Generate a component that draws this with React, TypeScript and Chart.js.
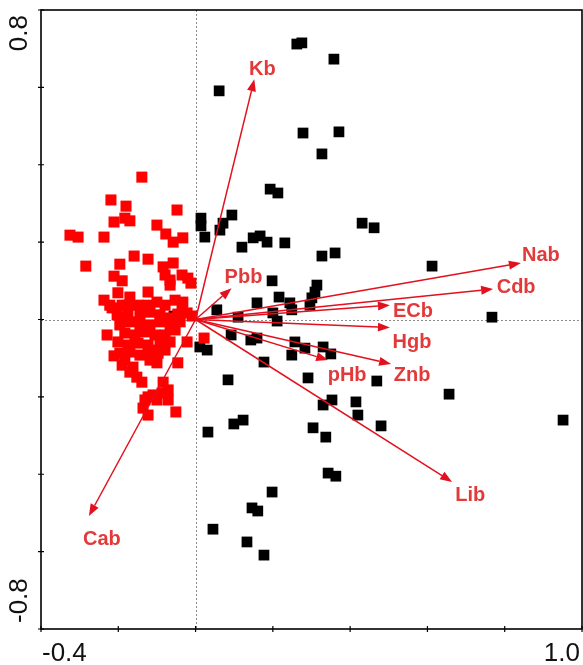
import React, { useEffect, useRef } from "react";
import { Chart, registerables } from "chart.js";

Chart.register(...registerables);

// Sample scores, group 1 (red)
const redPoints: [number, number][] = [
  [-0.139, 0.368], [-0.219, 0.309], [-0.18, 0.293], [-0.048, 0.283], [-0.211, 0.252],
  [-0.183, 0.262], [-0.17, 0.255], [-0.1, 0.244], [-0.325, 0.218], [-0.304, 0.213],
  [-0.237, 0.213], [-0.077, 0.221], [-0.058, 0.2], [-0.033, 0.211], [-0.159, 0.164],
  [-0.123, 0.156], [-0.284, 0.138], [-0.196, 0.143], [-0.084, 0.136], [-0.058, 0.146],
  [-0.211, 0.112], [-0.19, 0.1], [-0.079, 0.115], [-0.066, 0.102], [-0.035, 0.115],
  [-0.02, 0.107], [-0.012, 0.094], [-0.066, 0.089], [-0.201, 0.069], [-0.17, 0.058],
  [-0.123, 0.071], [-0.237, 0.05], [-0.1, 0.045], [-0.053, 0.05], [-0.033, 0.045],
  [-0.222, 0.037], [-0.216, 0.03], [-0.046, 0.014], [-0.022, 0.017], [-0.009, 0.009],
  [-0.035, 0.035], [-0.229, -0.04], [-0.022, -0.058], [-0.046, -0.112], [0.022, -0.048],
  [-0.19, 0.006], [-0.196, -0.087], [-0.183, -0.105], [-0.19, -0.118], [-0.162, -0.123],
  [-0.152, -0.149], [-0.139, -0.162], [-0.097, -0.087], [-0.1, -0.112], [-0.118, -0.105],
  [-0.084, -0.162], [-0.071, -0.182], [-0.087, -0.19], [-0.11, -0.195], [-0.131, -0.208],
  [-0.136, -0.229], [-0.123, -0.247], [-0.1, -0.208], [-0.071, -0.208], [-0.051, -0.239],
  [-0.123, -0.2], [-0.17, -0.136], [-0.175, 0.037], [-0.149, 0.037], [-0.123, 0.037],
  [-0.079, 0.037], [-0.175, 0.019], [-0.144, 0.012], [-0.118, 0.019], [-0.092, 0.012],
  [-0.066, 0.004], [-0.196, -0.014], [-0.17, -0.006], [-0.144, -0.014], [-0.118, -0.014],
  [-0.092, -0.006], [-0.066, -0.014], [-0.04, -0.006], [-0.183, -0.035], [-0.157, -0.04],
  [-0.131, -0.032], [-0.105, -0.04], [-0.079, -0.04], [-0.053, -0.027], [-0.201, -0.058],
  [-0.175, -0.066], [-0.149, -0.061], [-0.123, -0.066], [-0.092, -0.066], [-0.066, -0.058],
  [-0.17, -0.084], [-0.144, -0.092], [-0.118, -0.079], [-0.079, -0.079], [-0.203, 0.012],
  [-0.19, 0.037], [-0.211, -0.094],
];

// Sample scores, group 2 (black)
const blackPoints: [number, number][] = [
  [0.262, 0.712], [0.275, 0.715], [0.358, 0.673], [0.061, 0.591], [0.278, 0.482],
  [0.371, 0.485], [0.327, 0.428], [0.193, 0.337], [0.213, 0.327], [0.014, 0.262],
  [0.014, 0.242], [0.094, 0.27], [0.071, 0.249], [0.063, 0.231], [0.431, 0.249],
  [0.462, 0.237], [0.024, 0.213], [0.12, 0.187], [0.149, 0.211], [0.167, 0.216],
  [0.185, 0.2], [0.231, 0.198], [0.327, 0.164], [0.361, 0.172], [0.198, 0.1],
  [0.314, 0.089], [0.309, 0.071], [0.301, 0.056], [0.296, 0.037], [0.216, 0.058],
  [0.244, 0.043], [0.249, 0.025], [0.159, 0.043], [0.055, 0.025], [0.11, 0.006],
  [0.2, 0.017], [0.211, -0.004], [0.092, -0.04], [0.143, -0.053], [0.159, -0.048],
  [0.011, -0.071], [0.03, -0.079], [0.257, -0.058], [0.283, -0.074], [0.249, -0.092],
  [0.33, -0.071], [0.35, -0.089], [0.177, -0.11], [0.084, -0.156], [0.291, -0.151],
  [0.469, -0.159], [0.353, -0.208], [0.33, -0.221], [0.415, -0.213], [0.42, -0.247],
  [0.48, -0.275], [0.612, 0.138], [0.767, 0.006], [0.656, -0.193], [0.951, -0.26],
  [0.032, -0.291], [0.099, -0.27], [0.123, -0.26], [0.304, -0.28], [0.337, -0.304],
  [0.343, -0.397], [0.363, -0.405], [0.198, -0.446], [0.146, -0.487], [0.161, -0.495],
  [0.045, -0.542], [0.133, -0.575], [0.177, -0.609], [-0.056, 0.009],
];

// Environmental vectors
const vectorNames = ["Kb", "Pbb", "Nab", "Cdb", "ECb", "Hgb", "Znb", "pHb", "Lib", "Cab"];
const vectorX = [0.152, 0.093, 0.842, 0.77, 0.503, 0.503, 0.506, 0.343, 0.664, -0.276];
const vectorY = [0.621, 0.081, 0.146, 0.079, 0.037, -0.021, -0.115, -0.105, -0.42, -0.508];

// Axis ticks and labels
const xTicks = [-0.4, -0.2, 0, 0.2, 0.4, 0.6, 0.8, 1.0];
const yTicks = [-0.8, -0.6, -0.4, -0.2, 0, 0.2, 0.4, 0.6, 0.8];
const xTickLabels = ["-0.4", "1.0"];
const yTickLabels = ["-0.8", "0.8"];

// label placement (pixel offsets of label centre from arrow tip)
const labelOffsets: Record<string, [number, number]> = {
  Kb: [8, -11], Pbb: [12, -12], Nab: [20, -9], Cdb: [23, -3], ECb: [23, 5],
  Hgb: [22, 13], Znb: [21, 10], pHb: [19, 14], Lib: [18, 12], Cab: [13, 22],
};

const ARROW = "#e3101e";
const LABEL = "#e23a3a";
const FONT = '"Liberation Sans", Arial, sans-serif';

const overlay = {
  id: "overlay",
  beforeDatasetsDraw(chart: any) {
    const { ctx, chartArea: a, scales } = chart;
    const x0 = Math.round(scales.x.getPixelForValue(0)) + 0.5;
    const y0 = Math.round(scales.y.getPixelForValue(0)) + 0.5;
    ctx.save();
    ctx.strokeStyle = "#8c8c8c";
    ctx.lineWidth = 1;
    ctx.setLineDash([2, 2]);
    ctx.beginPath();
    ctx.moveTo(x0, a.top);
    ctx.lineTo(x0, a.bottom);
    ctx.moveTo(a.left, y0);
    ctx.lineTo(a.right, y0);
    ctx.stroke();
    ctx.restore();
  },
  afterDatasetsDraw(chart: any) {
    const { ctx, chartArea: a, scales } = chart;
    const sx = scales.x, sy = scales.y;
    const ox = sx.getPixelForValue(0), oy = sy.getPixelForValue(0);
    ctx.save();
    // arrows
    vectorNames.forEach((name, i) => {
      const tx = sx.getPixelForValue(vectorX[i]);
      const ty = sy.getPixelForValue(vectorY[i]);
      const ang = Math.atan2(ty - oy, tx - ox);
      const hl = 12, hw = 4.5;
      const bx = tx - hl * Math.cos(ang), by = ty - hl * Math.sin(ang);
      ctx.strokeStyle = ARROW;
      ctx.fillStyle = ARROW;
      ctx.lineWidth = 1.5;
      ctx.beginPath();
      ctx.moveTo(ox, oy);
      ctx.lineTo(bx, by);
      ctx.stroke();
      ctx.beginPath();
      ctx.moveTo(tx, ty);
      ctx.lineTo(bx + hw * Math.sin(ang), by - hw * Math.cos(ang));
      ctx.lineTo(bx - hw * Math.sin(ang), by + hw * Math.cos(ang));
      ctx.closePath();
      ctx.fill();
      const off = labelOffsets[name] || [0, 0];
      ctx.fillStyle = LABEL;
      ctx.font = `bold 20px ${FONT}`;
      ctx.textAlign = "center";
      ctx.textBaseline = "alphabetic";
      ctx.fillText(name, tx + off[0], ty + off[1] + 7);
    });
    // frame
    ctx.strokeStyle = "#000";
    ctx.lineWidth = 1.6;
    ctx.strokeRect(a.left, a.top, a.right - a.left, a.bottom - a.top);
    // ticks
    ctx.lineWidth = 1.2;
    ctx.beginPath();
    xTicks.forEach((v) => {
      const px = sx.getPixelForValue(v);
      ctx.moveTo(px, a.bottom - 3);
      ctx.lineTo(px, a.bottom + 3);
    });
    yTicks.forEach((v) => {
      const py = sy.getPixelForValue(v);
      ctx.moveTo(a.left - 3, py);
      ctx.lineTo(a.left + 3, py);
    });
    ctx.stroke();
    // tick labels
    ctx.fillStyle = "#111";
    ctx.font = `26px ${FONT}`;
    ctx.textBaseline = "alphabetic";
    ctx.textAlign = "left";
    ctx.fillText(xTickLabels[0], sx.getPixelForValue(-0.4) + 1, a.bottom + 32);
    ctx.textAlign = "right";
    ctx.fillText(xTickLabels[1], sx.getPixelForValue(1.0) - 2, a.bottom + 32);
    // y labels rotated
    ctx.save();
    ctx.translate(a.left - 14, sy.getPixelForValue(-0.8) - 6);
    ctx.rotate(-Math.PI / 2);
    ctx.textAlign = "left";
    ctx.fillText(yTickLabels[0], 0, 0);
    ctx.restore();
    ctx.save();
    ctx.translate(a.left - 14, sy.getPixelForValue(0.8) + 5);
    ctx.rotate(-Math.PI / 2);
    ctx.textAlign = "right";
    ctx.fillText(yTickLabels[1], 0, 0);
    ctx.restore();
    ctx.restore();
  },
};

export default function App() {
  const ref = useRef<HTMLCanvasElement | null>(null);
  useEffect(() => {
    if (!ref.current) return;
    const chart = new Chart(ref.current, {
      type: "scatter",
      data: {
        datasets: [
          {
            label: "group 1",
            data: redPoints.map(([x, y]) => ({ x, y })),
            pointStyle: "rect",
            pointRadius: 7.8,
            borderWidth: 0,
            backgroundColor: "#ff0000",
            order: 0,
          },
          {
            label: "group 2",
            data: blackPoints.map(([x, y]) => ({ x, y })),
            pointStyle: "rect",
            pointRadius: 7.6,
            borderWidth: 0,
            backgroundColor: "#000000",
            order: 1,
          },
        ],
      },
      options: {
        responsive: false,
        animation: false,
        devicePixelRatio: 1,
        events: [],
        layout: { autoPadding: false, padding: { left: 41, top: 10, right: 1, bottom: 36 } },
        plugins: { legend: { display: false }, tooltip: { enabled: false } },
        scales: {
          x: { type: "linear", min: -0.4, max: 1.0, display: false },
          y: { type: "linear", min: -0.8, max: 0.8, display: false },
        },
      },
      plugins: [overlay],
    });
    return () => chart.destroy();
  }, []);
  return (
    <div style={{ position: "absolute", left: 0, top: 0, width: 583, height: 665, background: "#fff" }}>
      <canvas ref={ref} width={583} height={665} style={{ display: "block" }} />
    </div>
  );
}
